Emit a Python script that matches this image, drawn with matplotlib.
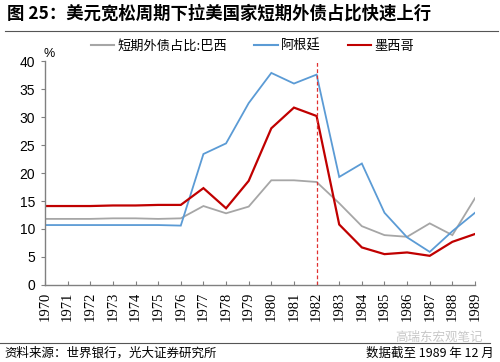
import matplotlib
matplotlib.use("Agg")
import matplotlib.pyplot as plt
from matplotlib.lines import Line2D

plt.rcParams['font.family'] = ['Noto Sans CJK SC', 'DejaVu Sans']

years = list(range(1970, 1990))
brazil = [11.8, 11.8, 11.8, 11.9, 11.9, 11.8, 11.9, 14.1, 12.8, 14.0, 18.7, 18.7, 18.4,
          14.6, 10.5, 8.9, 8.6, 11.0, 8.9, 15.5]
argentina = [10.7, 10.7, 10.7, 10.7, 10.7, 10.7, 10.6, 23.4, 25.3, 32.5, 37.9, 36.0, 37.6,
             19.3, 21.7, 12.9, 8.5, 5.9, 9.6, 12.9]
mexico = [14.1, 14.1, 14.1, 14.2, 14.2, 14.3, 14.3, 17.3, 13.7, 18.6, 28.0, 31.7, 30.2,
          10.8, 6.7, 5.5, 5.8, 5.2, 7.7, 9.1]
series_names = ['短期外债占比:巴西', '阿根廷', '墨西哥']
colors = ['#a6a6a6', '#5b9bd5', '#c00000']
yticks = [0, 5, 10, 15, 20, 25, 30, 35, 40]
mark_year = 1982

fig = plt.figure(figsize=(5.0, 3.62), dpi=100)
ax = fig.add_axes([0.09, 0.213, 0.86, 0.618])

for vals, c, name in zip([brazil, argentina, mexico], colors, series_names):
    lw = 1.6 if c == '#c00000' else 1.3
    ax.plot(years, vals, color=c, lw=lw, label=name, solid_joinstyle='miter')

ax.axvline(mark_year, ymin=0, ymax=1, color='#e03030', lw=0.9, ls=(0, (3, 2)))

ax.set_xlim(1970, 1989)
ax.set_ylim(0, 40)
ax.set_yticks(yticks)
ax.set_yticklabels([str(v) for v in yticks], fontsize=10, family=['Liberation Sans'])
ax.set_xticks(years)
ax.set_xticklabels([str(y) for y in years], rotation=90, fontsize=10.5,
                   family=['Liberation Serif'])
for s in ['top', 'right']:
    ax.spines[s].set_visible(False)
for s in ['left', 'bottom']:
    ax.spines[s].set_color('#808080')
    ax.spines[s].set_linewidth(1.0)
ax.tick_params(axis='y', direction='out', length=3, color='#808080', pad=4)
ax.tick_params(axis='x', direction='in', length=3, color='#808080', pad=5)
ax.text(1970.2, 40.3, '%', fontsize=9, ha='center', va='bottom', family=['Liberation Sans'])

handles = [Line2D([0], [0], color=c, lw=1.5) for c in colors]
fig.legend(handles, series_names, loc='center', bbox_to_anchor=(0.505, 0.872), ncol=3,
           frameon=False, fontsize=9.5, handlelength=1.75, columnspacing=2.1,
           handletextpad=0.25, borderpad=0)

fig.text(0.014, 0.962, '图 25：美元宽松周期下拉美国家短期外债占比快速上行', fontsize=12.5,
         fontweight='bold', ha='left', va='center')
fig.add_artist(Line2D([0.01, 0.995], [0.915, 0.915], color='#555555', lw=0.8))
fig.add_artist(Line2D([0.0, 0.98], [0.052, 0.052], color='#555555', lw=0.8))
fig.text(0.008, 0.025, '资料来源：世界银行，光大证券研究所', fontsize=9, ha='left', va='center')
fig.text(0.988, 0.025, '数据截至 1989 年 12 月', fontsize=9, ha='right', va='center')
fig.text(0.966, 0.068, '高瑞东宏观笔记', fontsize=9, ha='right', va='center', color='#c8c8c8')

fig.savefig('out.png', dpi=100)
